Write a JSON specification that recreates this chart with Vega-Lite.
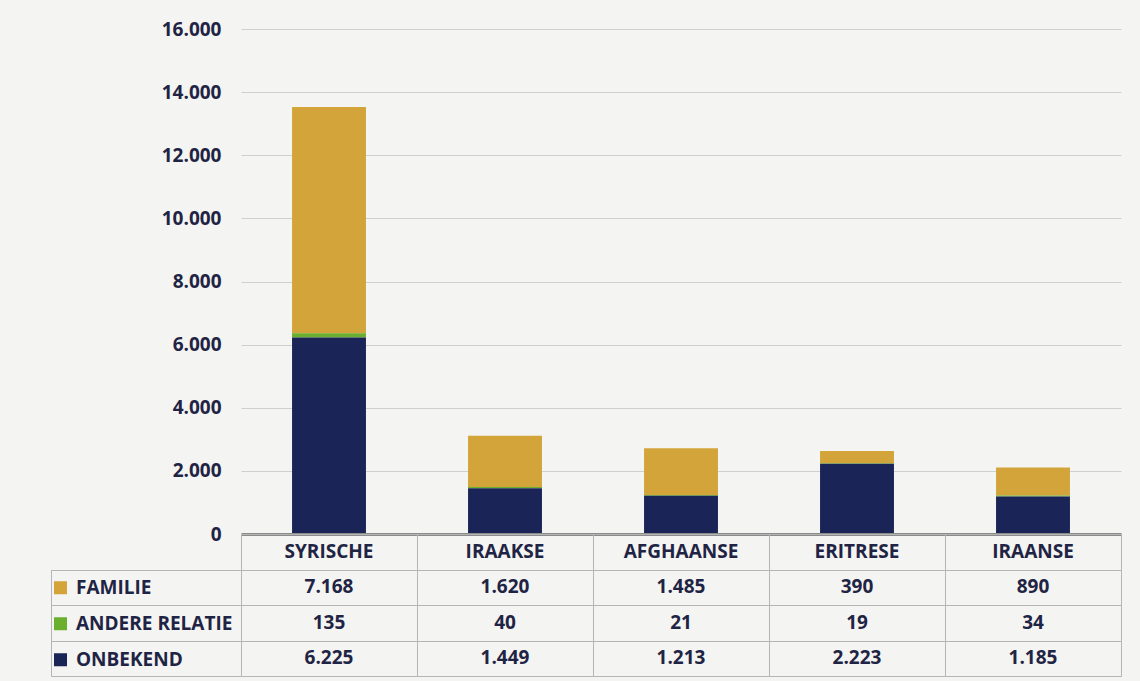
{
  "$schema": "https://vega.github.io/schema/vega-lite/v6.json",
  "background": "#f4f4f2",
  "padding": {"left": 50, "top": 20, "right": 20, "bottom": 4},
  "autosize": {"type": "pad"},
  "spacing": 0,
  "bounds": "flush",
  "datasets": {
    "rows": [
      {"nat": "SYRISCHE", "series": "FAMILIE", "value": 7168},
      {"nat": "SYRISCHE", "series": "ANDERE RELATIE", "value": 135},
      {"nat": "SYRISCHE", "series": "ONBEKEND", "value": 6225},
      {"nat": "IRAAKSE", "series": "FAMILIE", "value": 1620},
      {"nat": "IRAAKSE", "series": "ANDERE RELATIE", "value": 40},
      {"nat": "IRAAKSE", "series": "ONBEKEND", "value": 1449},
      {"nat": "AFGHAANSE", "series": "FAMILIE", "value": 1485},
      {"nat": "AFGHAANSE", "series": "ANDERE RELATIE", "value": 21},
      {"nat": "AFGHAANSE", "series": "ONBEKEND", "value": 1213},
      {"nat": "ERITRESE", "series": "FAMILIE", "value": 390},
      {"nat": "ERITRESE", "series": "ANDERE RELATIE", "value": 19},
      {"nat": "ERITRESE", "series": "ONBEKEND", "value": 2223},
      {"nat": "IRAANSE", "series": "FAMILIE", "value": 890},
      {"nat": "IRAANSE", "series": "ANDERE RELATIE", "value": 34},
      {"nat": "IRAANSE", "series": "ONBEKEND", "value": 1185}
    ]
  },
  "vconcat": [
    {
      "width": 880,
      "height": 505,
      "data": {"name": "rows"},
      "transform": [
        {"calculate": "indexof(['ONBEKEND','ANDERE RELATIE','FAMILIE'], datum.series)", "as": "stackOrder"}
      ],
      "mark": {"type": "bar"},
      "encoding": {
        "x": {
          "field": "nat", "type": "nominal",
          "sort": ["SYRISCHE", "IRAAKSE", "AFGHAANSE", "ERITRESE", "IRAANSE"],
          "scale": {"paddingInner": 0.58, "paddingOuter": 0.29},
          "axis": {"labels": false, "ticks": false, "title": null, "domainColor": "#8a8a8a", "domainWidth": 3, "zindex": 2}
        },
        "y": {
          "field": "value", "type": "quantitative", "stack": "zero",
          "scale": {"domain": [0, 16000]},
          "axis": {
            "values": [0, 2000, 4000, 6000, 8000, 10000, 12000, 14000, 16000],
            "format": ",d", "title": null, "domain": false, "ticks": false,
            "labelPadding": 20, "gridColor": "#cfcfcf",
            "labelFontSize": 19, "labelFontWeight": "bold", "labelColor": "#1f2444", "labelFont": "Open Sans"
          }
        },
        "color": {
          "field": "series", "type": "nominal",
          "scale": {"domain": ["FAMILIE", "ANDERE RELATIE", "ONBEKEND"], "range": ["#d3a43a", "#6aaf2e", "#1b2456"]},
          "legend": {
            "orient": "none", "legendX": -190, "legendY": 541, "title": null,
            "symbolType": "square", "symbolSize": 169, "symbolStrokeWidth": 0,
            "labelFontSize": 19, "labelFont": "Open Sans", "labelFontWeight": "bold", "labelColor": "#1f2444",
            "labelOffset": 6, "rowPadding": 0, "clipHeight": 35.5, "padding": 0
          }
        },
        "order": {"field": "stackOrder", "type": "quantitative"}
      }
    },
    {
      "width": 880,
      "height": 142,
      "data": {"name": "rows"},
      "view": {"stroke": "#b5b5b5"},
      "layer": [
        {
          "mark": {"type": "text", "font": "Open Sans", "fontSize": 19, "fontWeight": "bold", "color": "#1f2444"},
          "encoding": {
            "x": {
              "field": "nat", "type": "nominal",
              "sort": ["SYRISCHE", "IRAAKSE", "AFGHAANSE", "ERITRESE", "IRAANSE"],
              "axis": {"labels": false, "ticks": false, "domain": false, "title": null, "grid": true, "tickBand": "extent", "gridColor": "#b5b5b5"}
            },
            "y": {
              "field": "series", "type": "nominal",
              "scale": {"domain": [" ", "FAMILIE", "ANDERE RELATIE", "ONBEKEND"]},
              "axis": {
                "labels": false, "title": null,
                "offset": 190, "domain": true, "domainColor": "#b5b5b5", "domainDash": [0, 35.5, 120, 0],
                "ticks": true, "tickSize": -190, "tickOffset": 17.75, "tickColor": "#b5b5b5",
                "grid": true, "gridColor": "#b5b5b5"
              }
            },
            "text": {"field": "value", "type": "quantitative", "format": ",d"}
          }
        },
        {
          "transform": [{"filter": "datum.series === 'FAMILIE'"}],
          "mark": {"type": "text", "font": "Open Sans", "fontSize": 19, "fontWeight": "bold", "color": "#1f2444"},
          "encoding": {
            "x": {"field": "nat", "type": "nominal", "sort": ["SYRISCHE", "IRAAKSE", "AFGHAANSE", "ERITRESE", "IRAANSE"]},
            "y": {"datum": " ", "type": "nominal"},
            "text": {"field": "nat", "type": "nominal"}
          }
        }
      ]
    }
  ],
  "config": {
    "view": {"stroke": null},
    "locale": {"number": {"decimal": ",", "thousands": ".", "grouping": [3], "currency": ["€", ""]}}
  }
}
